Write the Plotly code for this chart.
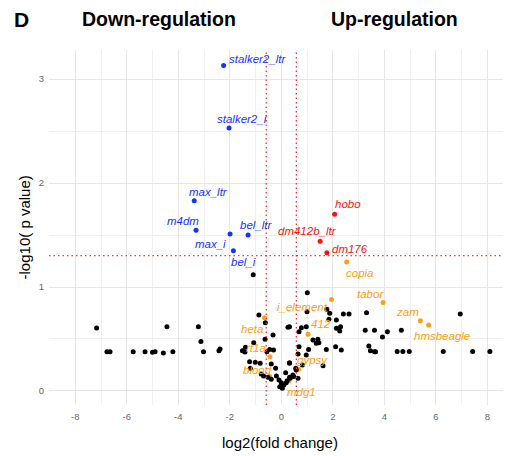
import plotly.graph_objects as go

# ---------------- data ----------------
# non-significant elements (black)
bg_x = [-7.17, -6.77, -6.65, -5.75, -5.29, -5.0, -4.9, -4.58, -4.44, -4.21, -3.22, -3.12, -3.02, -2.42, -2.38,
        -1.09, 1.01,
        -0.87, -0.62, 0.26, -0.32, -0.63, -1.07, -1.39, -1.51, -1.41, -0.45, -0.30, -0.56, -1.23, -0.82, -1.01,
        -1.20, -0.78, -0.69, -0.52, -0.39, -0.19, -0.09, 0.0, -0.06, 0.04, 0.10, 0.19, 0.35, 0.48, 0.32, 0.56,
        -0.39, -0.22, 0.17,
        1.0, 1.77, 1.88, 1.85, 2.14, 0.32, 0.78, 0.97, 0.69, 2.14, 2.27, 2.30, 1.23, 1.42, 1.36, 1.46, 0.69, 1.06,
        1.75, 2.11, 2.33, 0.65, 0.97, 0.32, 0.82, 1.62, 0.58, 0.45, 0.32, 0.23, 0.65,
        2.41, 2.63, 3.31, 6.95, 3.26, 3.62, 4.12, 3.93, 4.66, 3.40, 3.46, 3.62, 3.66, 4.50, 4.72, 4.97, 6.29,
        7.43, 8.10]
bg_y = [0.606, 0.378, 0.378, 0.378, 0.378, 0.372, 0.378, 0.365, 0.618, 0.378, 0.618, 0.477, 0.378, 0.388, 0.404,
        1.118, 0.945,
        0.731, 0.657, 0.612, 0.538, 0.497, 0.465, 0.42, 0.387, 0.375, 0.40, 0.394, 0.378, 0.282, 0.266, 0.276,
        0.218, 0.163, 0.144, 0.131, 0.112, 0.144, 0.106, 0.08, 0.041, 0.026, 0.058, 0.08, 0.122, 0.138, 0.266, 0.218,
        0.26, 0.218, 0.176,
        0.763, 0.785, 0.747, 0.689, 0.683, 0.618, 0.609, 0.618, 0.57, 0.603, 0.577, 0.618, 0.49, 0.497, 0.458, 0.465,
        0.426, 0.40, 0.40, 0.426, 0.394, 0.356, 0.346, 0.272, 0.25, 0.243, 0.202, 0.154, 0.131, 0.099, 0.122,
        0.74, 0.74, 0.753, 0.74, 0.583, 0.583, 0.57, 0.52, 0.583, 0.433, 0.388, 0.378, 0.378, 0.38, 0.38, 0.38, 0.38,
        0.38, 0.38]

# significantly down-regulated (blue)
down_names = ["stalker2_ltr", "stalker2_i", "max_ltr", "m4dm", "max_i", "bel_ltr", "bel_i"]
down_x = [-2.24, -2.03, -3.38, -3.31, -1.99, -1.29, -1.86]
down_y = [3.13, 2.53, 1.83, 1.545, 1.51, 1.50, 1.35]

# significantly up-regulated (red)
up_names = ["hobo", "dm412b_ltr", "dm176"]
up_x = [2.07, 1.51, 1.77]
up_y = [1.70, 1.44, 1.33]

# other labelled elements (orange)
oth_names = ["copia", "tabor", "zam", "hmsbeagle", "i_element", "412", "heta", "rt1a", "blood", "gypsy", "mdg1"]
oth_x = [2.54, 3.95, 5.40, 5.72, 1.95, 1.04, -0.65, -0.44, -0.45, 0.67, 0.29]
oth_y = [1.24, 0.85, 0.676, 0.635, 0.88, 0.545, 0.705, 0.33, 0.14, 0.21, 0.095]

fc_cut = 0.585   # log2(1.5)
p_cut = 1.301    # -log10(0.05)

x_ticks = [-8, -6, -4, -2, 0, 2, 4, 6, 8]
y_ticks = [0, 1, 2, 3]

# ---------------- style ----------------
BLUE = "#1533ff"
RED = "#ff1010"
ORANGE = "#ffa010"
LINE_RED = "#ff3030"
FONT = "Liberation Sans, Arial, sans-serif"

# label offsets in pixels (xshift, yshift)
label_shift = {
    "stalker2_ltr": (34, 7), "stalker2_i": (13, 9), "max_ltr": (14, 9), "m4dm": (-13, 9),
    "max_i": (-20, -10), "bel_ltr": (8, 10), "bel_i": (10, -11),
    "hobo": (13, 10), "dm412b_ltr": (-13, 10), "dm176": (23, 4),
    "copia": (13, -11), "tabor": (-13, 9), "zam": (-13, 9), "hmsbeagle": (13, -11),
    "i_element": (-29, -8), "412": (13, 10), "heta": (-13, -11), "rt1a": (-14, 9),
    "blood": (-12, 6), "gypsy": (14, 9), "mdg1": (13, -11),
}

fig = go.Figure()
fig.add_trace(go.Scatter(x=oth_x, y=oth_y, mode="markers",
                         marker=dict(color=ORANGE, size=5), hoverinfo="skip"))
fig.add_trace(go.Scatter(x=bg_x, y=bg_y, mode="markers",
                         marker=dict(color="black", size=5), hoverinfo="skip"))
fig.add_trace(go.Scatter(x=down_x, y=down_y, mode="markers",
                         marker=dict(color=BLUE, size=5), hoverinfo="skip"))
fig.add_trace(go.Scatter(x=up_x, y=up_y, mode="markers",
                         marker=dict(color=RED, size=5), hoverinfo="skip"))

annotations = []
for names, xs, ys, col in [(down_names, down_x, down_y, BLUE),
                           (up_names, up_x, up_y, RED),
                           (oth_names, oth_x, oth_y, ORANGE)]:
    for n, x, y in zip(names, xs, ys):
        dx, dy = label_shift[n]
        annotations.append(dict(x=x, y=y, xref="x", yref="y", text=f"<i>{n}</i>",
                                showarrow=False, xshift=dx, yshift=dy,
                                font=dict(family=FONT, size=11.5, color=col)))

# titles
annotations += [
    dict(x=-0.0606, y=1.087, xref="paper", yref="paper", text="<b>D</b>", showarrow=False,
         font=dict(family=FONT, size=21, color="black"), xanchor="center", yanchor="middle"),
    dict(x=0.2374, y=1.087, xref="paper", yref="paper", text="<b>Down-regulation</b>", showarrow=False,
         font=dict(family=FONT, size=19.5, color="black"), xanchor="center", yanchor="middle"),
    dict(x=0.7468, y=1.087, xref="paper", yref="paper", text="<b>Up-regulation</b>", showarrow=False,
         font=dict(family=FONT, size=19.5, color="black"), xanchor="center", yanchor="middle"),
    dict(x=0.5, y=-0.107, xref="paper", yref="paper", text="log2(fold change)", showarrow=False,
         font=dict(family=FONT, size=15, color="black"), xanchor="center", yanchor="middle"),
    dict(x=-0.052, y=0.5, xref="paper", yref="paper", text="-log10( p value)", showarrow=False,
         textangle=-90, font=dict(family=FONT, size=15, color="black"), xanchor="center", yanchor="middle"),
]

DOT = "1.5px,3px"
shapes = [
    dict(type="line", xref="x", yref="paper", x0=-fc_cut, x1=-fc_cut, y0=0, y1=1,
         line=dict(color=LINE_RED, width=1.3, dash=DOT)),
    dict(type="line", xref="x", yref="paper", x0=fc_cut, x1=fc_cut, y0=0, y1=1,
         line=dict(color=LINE_RED, width=1.3, dash=DOT)),
    dict(type="line", xref="paper", yref="y", x0=0, x1=1, y0=p_cut, y1=p_cut,
         line=dict(color=LINE_RED, width=1.3, dash=DOT)),
]

# page body has an 8px margin, so the figure is 8px smaller than the window
fig.update_layout(
    width=503, height=448,
    margin=dict(l=41, r=0, t=42, b=51, autoexpand=False),
    paper_bgcolor="white", plot_bgcolor="white",
    showlegend=False,
    annotations=annotations,
    shapes=shapes,
    xaxis=dict(range=[-9.02, 8.92], tickvals=x_ticks, ticktext=[str(v) for v in x_ticks],
               showgrid=True, gridcolor="#e6e6e6", gridwidth=1, zeroline=False, showline=False,
               ticks="", ticklabelstandoff=4, automargin=False,
               tickfont=dict(family=FONT, size=9.5, color="#666666"),
               minor=dict(tickvals=[-9, -7, -5, -3, -1, 1, 3, 5, 7, 9], showgrid=True,
                          gridcolor="#f0f0f0", gridwidth=0.8)),
    yaxis=dict(range=[-0.135, 3.28], tickvals=y_ticks, ticktext=[str(v) for v in y_ticks],
               showgrid=True, gridcolor="#e6e6e6", gridwidth=1, zeroline=False, showline=False,
               ticks="", ticklabelstandoff=4, automargin=False,
               tickfont=dict(family=FONT, size=9.5, color="#666666"),
               minor=dict(tickvals=[0.5, 1.5, 2.5], showgrid=True, gridcolor="#f0f0f0", gridwidth=0.8)),
)

fig.write_html("out.html")
